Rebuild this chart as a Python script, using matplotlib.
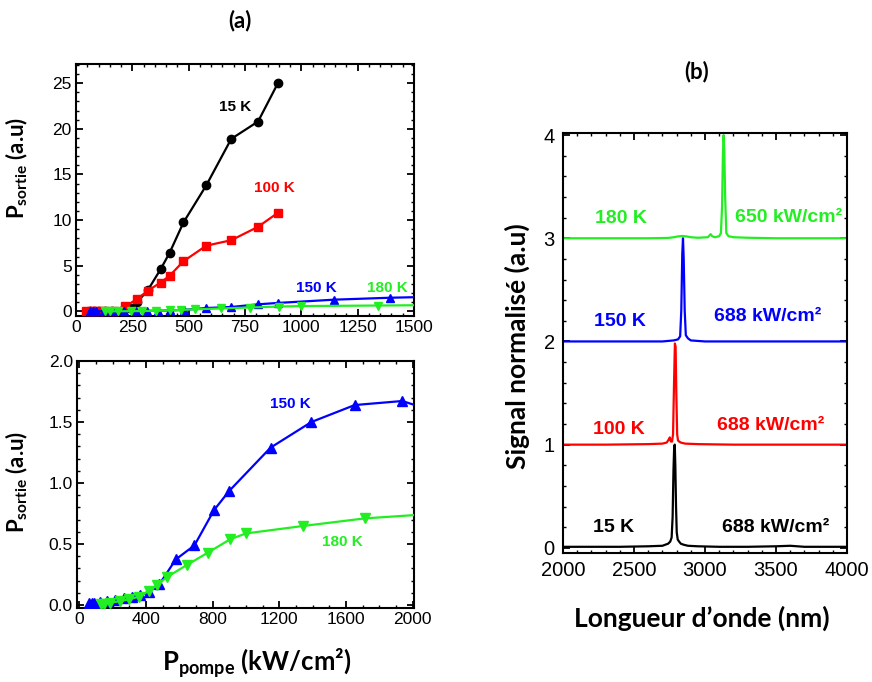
import matplotlib
matplotlib.use("Agg")
import matplotlib.pyplot as plt
from matplotlib.ticker import MultipleLocator, FormatStrFormatter

plt.rcParams['mathtext.fontset'] = 'custom'
plt.rcParams['mathtext.rm'] = 'Lato:bold'
plt.rcParams['mathtext.it'] = 'Lato:bold'
plt.rcParams['mathtext.bf'] = 'Lato:bold'

# ---------------- data (panel a) ----------------
p15_x = [60, 80, 100, 130, 160, 200, 240, 270, 318, 375, 415, 477, 578, 689, 808, 896]
p15_y = [0.0, 0.0, 0.0, 0.0, 0.0, 0.05, 0.4, 1.0, 2.3, 4.6, 6.4, 9.75, 13.8, 18.9, 20.8, 25.0]

p100_x = [45, 65, 80, 100, 130, 170, 219, 270, 318, 375, 415, 477, 578, 689, 808, 896]
p100_y = [0.0, 0.0, 0.0, 0.0, 0.0, 0.05, 0.55, 1.35, 2.25, 3.16, 3.9, 5.5, 7.2, 7.8, 9.27, 10.8]

p150_x = [60, 75, 90, 126, 166, 215, 265, 315, 365, 415, 479, 578, 690, 808, 898, 1147, 1392, 1652, 1937, 2150]
p150_y = [0.015, 0.018, 0.019, 0.027, 0.033, 0.044, 0.055, 0.066, 0.079, 0.109, 0.169, 0.374, 0.489, 0.779,
          0.934, 1.29, 1.50, 1.639, 1.672, 1.58]

p180_x = [130, 150, 186, 245, 295, 355, 415, 465, 528, 644, 770, 903, 999, 1342, 1711, 2150]
p180_y = [0.005, 0.011, 0.019, 0.033, 0.046, 0.068, 0.115, 0.164, 0.232, 0.328, 0.429, 0.538, 0.587, 0.648,
          0.71, 0.75]

# ---------------- data (panel b) ----------------
wl_15 = [2000, 2200, 2400, 2600, 2700, 2740, 2755, 2765, 2772, 2778, 2783, 2787, 2791, 2796, 2801, 2808,
         2818, 2830, 2850, 2880, 2950, 3100, 3300, 3500, 3600, 3700, 4000]
s_15 = [0.01, 0.01, 0.01, 0.015, 0.02, 0.04, 0.06, 0.1, 0.3, 0.75, 0.98, 1.0, 0.8, 0.4, 0.15, 0.08,
        0.06, 0.04, 0.03, 0.02, 0.015, 0.01, 0.01, 0.015, 0.02, 0.01, 0.01]

wl_100 = [2000, 2300, 2600, 2700, 2730, 2745, 2752, 2760, 2768, 2775, 2782, 2788, 2793, 2798, 2804, 2810,
          2818, 2830, 2860, 2950, 3200, 3500, 4000]
s_100 = [1.0, 1.0, 1.005, 1.01, 1.02, 1.05, 1.07, 1.03, 1.03, 1.1, 1.6, 1.98, 1.95, 1.5, 1.1, 1.04,
         1.03, 1.02, 1.01, 1.005, 1.0, 1.0, 1.0]

wl_150 = [2000, 2400, 2700, 2780, 2810, 2825, 2833, 2840, 2845, 2850, 2857, 2865, 2880, 2900, 3000, 3500, 4000]
s_150 = [2.0, 2.0, 2.0, 2.01, 2.02, 2.05, 2.3, 2.85, 3.0, 2.8, 2.3, 2.06, 2.03, 2.01, 2.0, 2.0, 2.0]

wl_180 = [2000, 2600, 2740, 2780, 2810, 2840, 2870, 2900, 2950, 3020, 3040, 3050, 3070, 3100, 3112, 3120,
          3126, 3131, 3136, 3142, 3150, 3165, 3200, 3300, 3500, 4000]
s_180 = [3.0, 3.0, 3.003, 3.01, 3.018, 3.022, 3.018, 3.01, 3.005, 3.01, 3.04, 3.02, 3.01, 3.02, 3.05, 3.3,
         3.8, 4.0, 3.85, 3.4, 3.05, 3.02, 3.01, 3.005, 3.0, 3.0]

BLACK, RED, BLUE, GREEN = 'black', '#ff0000', '#0000ff', '#22ee22'
TICKFONT = 'Liberation Sans'
LABFONT = 'Lato'

fig = plt.figure(figsize=(8.72, 6.82), dpi=100)
W, H = 872.0, 682.0

def axes_px(l, t, r, b):
    return fig.add_axes([l / W, 1 - b / H, (r - l) / W, (b - t) / H])

ax1 = axes_px(76, 64, 414, 316)
ax2 = axes_px(77, 361, 414, 607.5)
ax3 = axes_px(563, 133, 847, 553)

def style(ax, fs):
    for s in ax.spines.values():
        s.set_linewidth(1.5)
    ax.tick_params(which='both', direction='in', top=True, right=True)
    ax.tick_params(which='major', length=5, width=1.3, labelsize=fs, pad=3)
    ax.tick_params(which='minor', length=2.5, width=1.0)
    for lab in ax.get_xticklabels() + ax.get_yticklabels():
        lab.set_fontfamily(TICKFONT)

lw, ms = 1.6, 6
# Top panel (a)
ax1.plot(p15_x, p15_y, '-o', color=BLACK, lw=lw, ms=ms, zorder=3)
ax1.plot(p100_x, p100_y, '-s', color=RED, lw=lw, ms=ms - 0.5, zorder=3)
ax1.plot(p150_x, p150_y, '-^', color=BLUE, lw=lw, ms=ms, zorder=4)
ax1.plot(p180_x, p180_y, '-v', color=GREEN, lw=lw, ms=ms, zorder=5)
ax1.set_xlim(0, 1500)
ax1.set_ylim(-0.5, 27.1)
ax1.xaxis.set_major_locator(MultipleLocator(250))
ax1.xaxis.set_minor_locator(MultipleLocator(50))
ax1.yaxis.set_major_locator(MultipleLocator(5))
ax1.yaxis.set_minor_locator(MultipleLocator(1))
style(ax1, 12.5)
afs = 11
ax1.text(704, 22.35, '15 K', color=BLACK, fontsize=afs, fontweight='bold', family=TICKFONT, ha='center', va='center')
ax1.text(882, 13.5, '100 K', color=RED, fontsize=afs, fontweight='bold', family=TICKFONT, ha='center', va='center')
ax1.text(1068, 2.6, '150 K', color=BLUE, fontsize=afs, fontweight='bold', family=TICKFONT, ha='center', va='center')
ax1.text(1384, 2.6, '180 K', color=GREEN, fontsize=afs, fontweight='bold', family=TICKFONT, ha='center', va='center')

# Bottom panel (a)
ms2 = 7
ax2.plot(p150_x, p150_y, '-^', color=BLUE, lw=lw, ms=ms2, zorder=3)
ax2.plot(p180_x, p180_y, '-v', color=GREEN, lw=lw, ms=ms2, zorder=4)
ax2.set_xlim(-15, 2008)
ax2.set_ylim(-0.02, 2.0)
ax2.xaxis.set_major_locator(MultipleLocator(400))
ax2.xaxis.set_minor_locator(MultipleLocator(100))
ax2.yaxis.set_major_locator(MultipleLocator(0.5))
ax2.yaxis.set_minor_locator(MultipleLocator(0.1))
ax2.yaxis.set_major_formatter(FormatStrFormatter('%.1f'))
style(ax2, 12.5)
ax2.text(1264, 1.645, '150 K', color=BLUE, fontsize=afs, fontweight='bold', family=TICKFONT, ha='center', va='center')
ax2.text(1577, 0.514, '180 K', color=GREEN, fontsize=afs, fontweight='bold', family=TICKFONT, ha='center', va='center')

# Panel (b)
ax3.plot(wl_15, s_15, color=BLACK, lw=1.6)
ax3.plot(wl_100, s_100, color=RED, lw=1.6)
ax3.plot(wl_150, s_150, color=BLUE, lw=1.6)
ax3.plot(wl_180, s_180, color=GREEN, lw=1.6)
ax3.set_xlim(2000, 4000)
ax3.set_ylim(-0.05, 4.02)
ax3.xaxis.set_major_locator(MultipleLocator(500))
ax3.xaxis.set_minor_locator(MultipleLocator(100))
ax3.yaxis.set_major_locator(MultipleLocator(1))
ax3.yaxis.set_minor_locator(MultipleLocator(0.2))
style(ax3, 14.5)
ax3.tick_params(axis='x', which='major', pad=6)
ax3.tick_params(axis='y', which='major', pad=6)
bfs = 14
for (x, y, t, c) in [(2354, 0.20, '15 K', BLACK), (3495, 0.20, '688 kW/cm²', BLACK),
                     (2396, 1.15, '100 K', RED), (3460, 1.19, '688 kW/cm²', RED),
                     (2404, 2.19, '150 K', BLUE), (3439, 2.24, '688 kW/cm²', BLUE),
                     (2411, 3.19, '180 K', GREEN), (3587, 3.20, '650 kW/cm²', GREEN)]:
    ax3.text(x, y, t, color=c, fontsize=bfs, fontweight='bold', family=TICKFONT, ha='center', va='center')

# Labels and titles
fig.text(240 / W, 1 - 21 / H, '(a)', fontsize=16, fontweight='bold', family=LABFONT, ha='center', va='center')
fig.text(697 / W, 1 - 72 / H, '(b)', fontsize=16, fontweight='bold', family=LABFONT, ha='center', va='center')
ylab = r'$\mathrm{P}_{\mathrm{sortie}}$ (a.u)'
fig.text(17 / W, 1 - 168 / H, ylab, rotation=90, fontsize=16, fontweight='bold', family=LABFONT,
         ha='center', va='center')
fig.text(17 / W, 1 - 482 / H, ylab, rotation=90, fontsize=16, fontweight='bold', family=LABFONT,
         ha='center', va='center')
fig.text(257 / W, 1 - 663 / H, r'$\mathrm{P}_{\mathrm{pompe}}$ (kW/cm²)', fontsize=18.5, fontweight='bold',
         family=LABFONT, ha='center', va='center')
fig.text(517 / W, 1 - 346 / H, 'Signal normalisé (a.u)', rotation=90, fontsize=19, fontweight='bold',
         family=LABFONT, ha='center', va='center')
fig.text(702 / W, 1 - 618 / H, 'Longueur d’onde (nm)', fontsize=19, fontweight='bold',
         family=LABFONT, ha='center', va='center')

fig.savefig('out.png', dpi=100)
